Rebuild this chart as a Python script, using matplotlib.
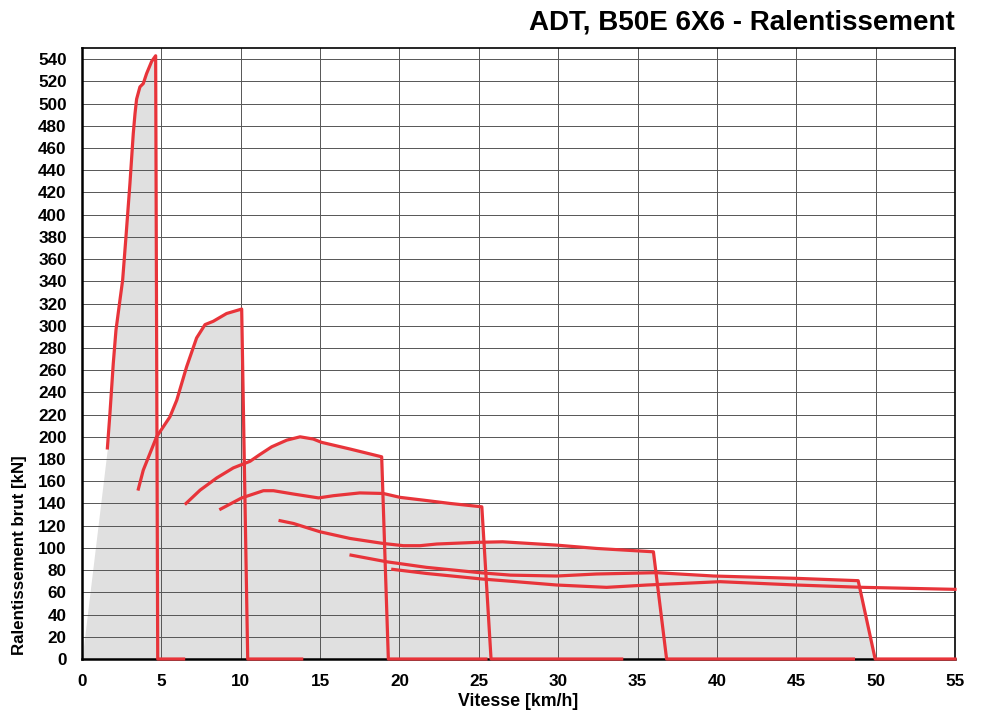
import matplotlib
matplotlib.use("Agg")
import matplotlib.pyplot as plt
import numpy as np

plt.rcParams["font.family"] = ["Liberation Sans", "DejaVu Sans"]
plt.rcParams["font.weight"] = "bold"

# Gear curves: speed [km/h] vs gross retardation [kN].
g1_x = [1.6, 1.76, 1.97, 2.14, 2.39, 2.56, 2.77, 3.02, 3.23, 3.34, 3.44, 3.65, 3.86, 4.07, 4.39, 4.64]
g1_y = [190, 221, 266, 296, 323, 341, 380, 428, 473, 491, 504, 515, 518, 527, 538, 543]
g2_x = [3.55, 3.86, 4.70, 5.54, 5.97, 6.59, 7.22, 7.75, 8.27, 9.11, 10.06]
g2_y = [153, 170, 200, 218, 233, 263, 289, 301, 304, 311, 315]
g3_x = [6.55, 7.44, 8.49, 9.53, 10.59, 11.2, 11.95, 12.9, 13.74, 14.57, 15.1, 16.89, 18.88]
g3_y = [140, 152, 163, 172, 178, 184, 191, 197, 200, 198, 195, 189, 182]
g4_x = [8.74, 10.06, 11.43, 12.06, 13.32, 14.9, 15.84, 17.5, 18.98, 20.04, 21.5, 23.2, 25.19]
g4_y = [135, 145, 151.5, 151.5, 148.5, 145, 147, 149.5, 149, 145.5, 143, 140, 137]
g5_x = [12.48, 13.32, 15.0, 16.89, 18.98, 20.25, 21.3, 22.35, 24.87, 26.5, 29.9, 32.43, 36.0]
g5_y = [124.5, 122, 114.5, 108.5, 104, 102, 102, 103.5, 105, 105.5, 102.5, 99.5, 96.5]
g6_x = [16.95, 19.2, 21.7, 25.2, 27.0, 29.9, 32.4, 36.2, 39.8, 45.0, 48.9]
g6_y = [93.5, 87.5, 82.5, 77.5, 75.5, 74.7, 76.5, 77.7, 74.7, 72.6, 70.5]
g7_x = [19.58, 21.7, 25.2, 27.0, 29.9, 33.05, 35.6, 40.2, 45.0, 49.2, 55.0]
g7_y = [80.7, 77, 72, 70, 66.6, 64.5, 66.6, 69.6, 66.6, 64.5, 62.7]

# where each gear's cut-off line meets zero, and where its zero line ends
drop_bottom = [4.77, 10.44, 19.3, 25.77, 36.83, 49.97]
zero_end = [6.4, 13.84, 25.45, 34.0, 48.6, 55.0]

gears = [(g1_x, g1_y), (g2_x, g2_y), (g3_x, g3_y), (g4_x, g4_y), (g5_x, g5_y), (g6_x, g6_y)]

RED = "#e8343a"

fig = plt.figure(figsize=(9.81, 7.11), dpi=100)
ax = fig.add_axes([82 / 981, 1 - 659 / 711, (955 - 82) / 981, (659 - 48) / 711])

# grey envelope under all gears (ramp from the origin to first gear start)
xs = np.linspace(0, 55, 4000)
env = np.interp(xs, [0, g1_x[0]], [0, g1_y[0]], right=0)
for (gx, gy), xb in zip(gears, drop_bottom):
    env = np.maximum(env, np.interp(xs, gx + [xb], gy + [0], left=0, right=0))
ax.fill_between(xs, 0, env, color="#e0e0e0", lw=0, zorder=1)

for (gx, gy), xb, xe in zip(gears, drop_bottom, zero_end):
    ax.plot(gx + [xb, xe], gy + [0, 0], color=RED, lw=2.3, zorder=5,
            solid_joinstyle="round", clip_on=False)
ax.plot(g7_x, g7_y, color=RED, lw=2.3, zorder=5, clip_on=False)

ax.set_xlim(0, 55)
ax.set_ylim(0, 550)
ax.set_xticks(np.arange(0, 56, 5))
ax.set_yticks(np.arange(0, 541, 20))
ax.grid(True, color="#555555", lw=0.7, zorder=2)
ax.set_axisbelow(False)
for line in ax.get_xgridlines() + ax.get_ygridlines():
    line.set_zorder(2)
ax.tick_params(length=0, labelsize=12.3, pad=11)
for lab in ax.get_xticklabels() + ax.get_yticklabels():
    lab.set_fontweight("bold")
for s in ax.spines.values():
    s.set_color("black")
    s.set_linewidth(1.2)
    s.set_zorder(4)
ax.spines["left"].set_linewidth(1.8)
ax.spines["bottom"].set_linewidth(1.8)

ax.set_xlabel("Vitesse [km/h]", fontsize=12.8, fontweight="bold", labelpad=3)
fig.text(20 / 981, 1 - 655 / 711, "Ralentissement brut [kN]", rotation=90,
         ha="center", va="bottom", fontsize=12.2, fontweight="bold")
fig.text(955 / 981, 1 - 22 / 711, "ADT, B50E 6X6 - Ralentissement", ha="right",
         va="center", fontsize=20, fontweight="bold")

fig.savefig("out.png", dpi=100)
